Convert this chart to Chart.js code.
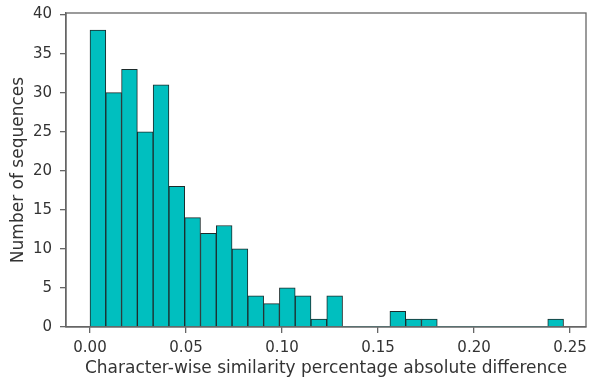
<!DOCTYPE html>
<html>
<head>
<meta charset="utf-8">
<script src="https://cdn.jsdelivr.net/npm/chart.js@4.4.1/dist/chart.umd.min.js"></script>
<style>
  html, body { margin: 0; padding: 0; background: #fff; }
  #wrap { width: 589px; height: 383px; }
</style>
</head>
<body>
<div id="wrap"><canvas id="hist"></canvas></div>
<script>
// histogram: 30 bins between 0 and the max difference
const binStart = 0;
const binWidth = 0.2466 / 30;
const counts = [38, 30, 33, 25, 31, 18, 14, 12, 13, 10,
                4, 3, 5, 4, 1, 4, 0, 0, 0, 2,
                1, 1, 0, 0, 0, 0, 0, 0, 0, 1];
const xTicks = [0, 0.05, 0.1, 0.15, 0.2, 0.25];
const yTicks = [0, 5, 10, 15, 20, 25, 30, 35, 40];

const points = counts.map((c, i) => ({ x: binStart + (i + 0.5) * binWidth, y: c }));

const FONT = "DejaVu Sans, Verdana, sans-serif";

const frame = {
  id: "frame",
  afterDraw(chart) {
    const a = chart.chartArea, ctx = chart.ctx;
    ctx.save();
    ctx.strokeStyle = "#666";
    ctx.lineWidth = 1.3;
    ctx.strokeRect(a.left, a.top, a.right - a.left, a.bottom - a.top);
    ctx.restore();
  }
};

// fixed box sizes so the plot area sits where the original does
const fitX = s => { s.height = 56; s.paddingLeft = 0; s.paddingRight = 0; };
const fitY = s => { s.width = 66; s.paddingTop = 0; s.paddingBottom = 0; };

new Chart(document.getElementById("hist"), {
  type: "bar",
  data: {
    datasets: [{
      data: points,
      backgroundColor: "#00BFBF",
      borderColor: "#1d2b2b",
      borderWidth: ctx => (ctx.raw && ctx.raw.y > 0 ? 1 : 0),
      borderSkipped: "bottom",
      barPercentage: 1,
      categoryPercentage: 1
    }]
  },
  options: {
    responsive: true,
    maintainAspectRatio: false,
    animation: false,
    layout: { padding: { top: 13, right: 3, left: 0, bottom: 0 } },
    plugins: { legend: { display: false }, tooltip: { enabled: false } },
    scales: {
      x: {
        type: "linear",
        offset: false,
        min: -0.0125,
        max: 0.2583,
        afterFit: fitX,
        afterBuildTicks: s => { s.ticks = xTicks.map(v => ({ value: v })); },
        ticks: {
          callback: v => v.toFixed(2),
          color: "#333",
          padding: 6,
          maxRotation: 0,
          font: { family: FONT, size: 15 }
        },
        grid: { offset: false, drawOnChartArea: false, drawTicks: true, tickLength: 6, color: "#666", lineWidth: 1.3 },
        border: { display: true, color: "#666", width: 1.3 },
        title: {
          display: true,
          text: "Character-wise similarity percentage absolute difference",
          color: "#333",
          padding: { top: 0, bottom: 4 },
          font: { family: FONT, size: 17 }
        }
      },
      y: {
        min: 0,
        max: 40.2,
        afterFit: fitY,
        afterBuildTicks: s => { s.ticks = yTicks.map(v => ({ value: v })); },
        ticks: {
          color: "#333",
          padding: 8,
          font: { family: FONT, size: 15 }
        },
        grid: { drawOnChartArea: false, drawTicks: true, tickLength: 6, color: "#666", lineWidth: 1.3 },
        border: { display: true, color: "#666", width: 1.3 },
        title: {
          display: true,
          text: "Number of sequences",
          color: "#333",
          padding: { top: 8, bottom: 0 },
          font: { family: FONT, size: 17 }
        }
      }
    }
  },
  plugins: [frame]
});
</script>
</body>
</html>
